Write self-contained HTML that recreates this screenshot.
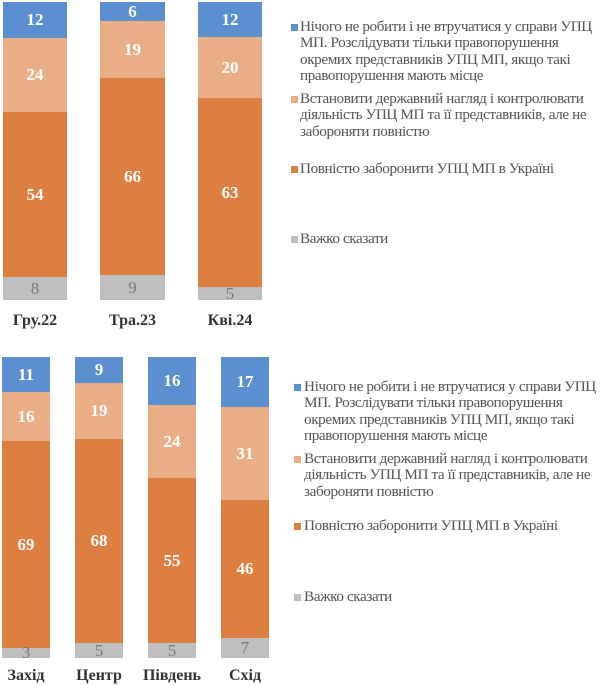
<!DOCTYPE html>
<html><head><meta charset="utf-8"><style>
body{margin:0;width:600px;height:686px;background:#fff;position:relative;overflow:hidden;font-family:"Liberation Serif",serif}
.s{position:absolute;display:flex;align-items:center;justify-content:center;font-weight:bold;color:#fff;font-size:17px}
.b{background:#5b8fcf}.l{background:#e9ae86;}.o{background:#dc7f40}.g{background:#bfbfbf;color:#777;font-weight:normal}
.x{position:absolute;font-weight:bold;font-size:16px;color:#333;text-align:center}
.lg{position:absolute;font-size:15.2px;line-height:16.4px;color:#555;white-space:nowrap;letter-spacing:-0.4px}
.q{position:absolute;width:7px;height:7px}
</style></head><body>
<div class="s b" style="left:3px;top:2px;width:64px;height:36px">12</div>
<div class="s l" style="left:3px;top:38px;width:64px;height:74px">24</div>
<div class="s o" style="left:3px;top:112px;width:64px;height:165px">54</div>
<div class="s g" style="left:3px;top:277px;width:64px;height:23px">8</div>
<div class="s b" style="left:100px;top:2px;width:65px;height:19px">6</div>
<div class="s l" style="left:100px;top:21px;width:65px;height:57px">19</div>
<div class="s o" style="left:100px;top:78px;width:65px;height:197px">66</div>
<div class="s g" style="left:100px;top:275px;width:65px;height:25px">9</div>
<div class="s b" style="left:198px;top:2px;width:64px;height:35px">12</div>
<div class="s l" style="left:198px;top:37px;width:64px;height:61px">20</div>
<div class="s o" style="left:198px;top:98px;width:64px;height:189px">63</div>
<div class="s g" style="left:198px;top:287px;width:64px;height:13px">5</div>
<div class="x" style="left:3px;top:312px;width:64px">Гру.22</div>
<div class="x" style="left:100px;top:312px;width:65px">Тра.23</div>
<div class="x" style="left:198px;top:312px;width:64px">Кві.24</div>
<div class="q b" style="left:291px;top:24px"></div>
<div class="lg" style="left:300px;top:19px">Нічого не робити і не втручатися у справи УПЦ<br>МП. Розслідувати тільки правопорушення<br>окремих представників УПЦ МП, якщо такі<br>правопорушення мають місце</div>
<div class="q l" style="left:291px;top:96px"></div>
<div class="lg" style="left:300px;top:91px">Встановити державний нагляд і контролювати<br>діяльність УПЦ МП та її представників, але не<br>забороняти повністю</div>
<div class="q o" style="left:291px;top:166px"></div>
<div class="lg" style="left:300px;top:161px">Повністю заборонити УПЦ МП в Україні</div>
<div class="q g" style="left:291px;top:236px"></div>
<div class="lg" style="left:300px;top:231px">Важко сказати</div>
<div class="s b" style="left:2px;top:357px;width:48px;height:35px">11</div>
<div class="s l" style="left:2px;top:392px;width:48px;height:49px">16</div>
<div class="s o" style="left:2px;top:441px;width:48px;height:207px">69</div>
<div class="s g" style="left:2px;top:648px;width:48px;height:10px">3</div>
<div class="s b" style="left:75px;top:357px;width:48px;height:26px">9</div>
<div class="s l" style="left:75px;top:383px;width:48px;height:56px">19</div>
<div class="s o" style="left:75px;top:439px;width:48px;height:204px">68</div>
<div class="s g" style="left:75px;top:643px;width:48px;height:15px">5</div>
<div class="s b" style="left:148px;top:357px;width:48px;height:48px">16</div>
<div class="s l" style="left:148px;top:405px;width:48px;height:73px">24</div>
<div class="s o" style="left:148px;top:478px;width:48px;height:165px">55</div>
<div class="s g" style="left:148px;top:643px;width:48px;height:15px">5</div>
<div class="s b" style="left:221px;top:357px;width:48px;height:50px">17</div>
<div class="s l" style="left:221px;top:407px;width:48px;height:93px">31</div>
<div class="s o" style="left:221px;top:500px;width:48px;height:138px">46</div>
<div class="s g" style="left:221px;top:638px;width:48px;height:20px">7</div>
<div class="x" style="left:-4px;top:667px;width:60px">Захід</div>
<div class="x" style="left:69px;top:667px;width:60px">Центр</div>
<div class="x" style="left:137px;top:667px;width:70px">Південь</div>
<div class="x" style="left:215px;top:667px;width:60px">Схід</div>
<div class="q b" style="left:294px;top:384px"></div>
<div class="lg" style="left:304px;top:379px">Нічого не робити і не втручатися у справи УПЦ<br>МП. Розслідувати тільки правопорушення<br>окремих представників УПЦ МП, якщо такі<br>правопорушення мають місце</div>
<div class="q l" style="left:294px;top:456px"></div>
<div class="lg" style="left:304px;top:451px">Встановити державний нагляд і контролювати<br>діяльність УПЦ МП та її представників, але не<br>забороняти повністю</div>
<div class="q o" style="left:294px;top:523px"></div>
<div class="lg" style="left:304px;top:518px">Повністю заборонити УПЦ МП в Україні</div>
<div class="q g" style="left:294px;top:594px"></div>
<div class="lg" style="left:304px;top:589px">Важко сказати</div>
</body></html>
